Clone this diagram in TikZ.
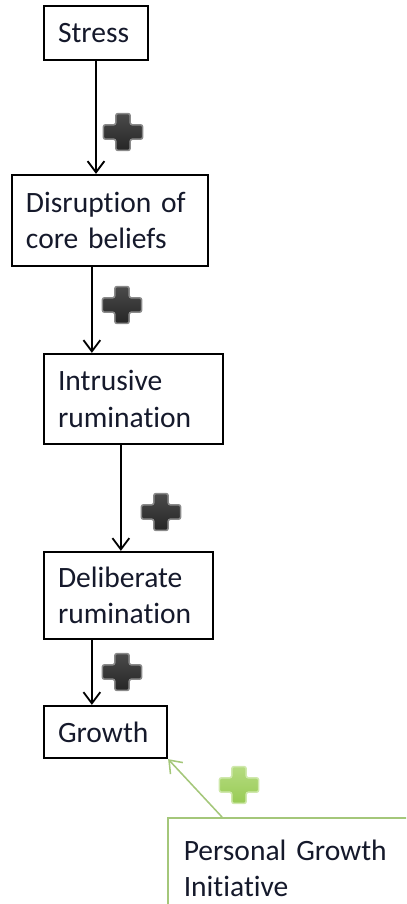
\documentclass[tikz,border=0pt]{standalone}
\usepackage{fontspec}
\setmainfont{Carlito}[Ligatures=NoCommon]
\usepackage{xcolor}
\usepackage{tikz}
\usetikzlibrary{
    arrows.meta,
    positioning,
    calc
}
\definecolor{ptgdark}{HTML}{262626}
\definecolor{ptgmid}{HTML}{4A4A4A}
\definecolor{ptgedge}{HTML}{8A8A8A}
\definecolor{ptggreen}{HTML}{A4C77A}
\definecolor{ptglime}{HTML}{98CB55}
\definecolor{ptgleaf}{HTML}{B5DB80}
\definecolor{ptgpale}{HTML}{CFE8AC}
\definecolor{ptgtext}{HTML}{15192B}
\tikzset{
    % Stage box
    stagebox/.style={
        rectangle,
        draw=black,
        line width=1.6pt,
        fill=white,
        text=ptgtext,
        font=\fontsize{21}{26}\selectfont,
        align=left,
        inner xsep=0.35cm,
        inner ysep=2pt
    },
    % Moderator box
    pgibox/.style={
        rectangle,
        draw=ptggreen,
        line width=1.1pt,
        fill=white,
        text=ptgtext,
        font=\fontsize{21}{26}\selectfont,
        align=left,
        inner xsep=0.4cm,
        inner ysep=0.55cm
    },
    % Arrow styles
    stagearrow/.style={
        -{Straight Barb[length=8pt,width=12pt]},
        line width=1.3pt,
        color=black
    },
    growtharrow/.style={
        -{Straight Barb[length=8pt,width=12pt]},
        line width=1.1pt,
        color=ptggreen
    },
    % Plus looks
    darkplus/.style={top color=ptgmid, bottom color=ptgdark, draw=ptgedge, line width=1.1pt},
    greenplus/.style={top color=ptgleaf, bottom color=ptglime, draw=ptgpale, line width=1.1pt},
    % Plus sign
    plusmark/.pic={
        \path[#1, rounded corners=1.5pt]
            (-0.18,0.46) -- (0.18,0.46) -- (0.18,0.18) -- (0.49,0.18)
            -- (0.49,-0.18) -- (0.18,-0.18) -- (0.18,-0.46) -- (-0.18,-0.46)
            -- (-0.18,-0.18) -- (-0.49,-0.18) -- (-0.49,0.18) -- (-0.18,0.18) -- cycle;
    }
}

\begin{document}
\begin{tikzpicture}

    % Page frame
    \useasboundingbox (0,0) rectangle (10.15,-22.6);
    \clip (0,0) rectangle (10.15,-22.6);

    % Stage nodes
    \node[stagebox, minimum height=1.35cm, text width=1.9cm] (stress) at (2.4,-0.825) {Stress};
    \node[stagebox, minimum height=2.275cm, text width=4.2cm] (disrupt) at (2.75,-5.5125) {Disruption of\\core beliefs};
    \node[stagebox, minimum height=2.25cm, text width=3.775cm] (intrus) at (3.3375,-9.975) {Intrusive\\rumination};
    \node[stagebox, minimum height=2.175cm, text width=3.525cm] (delib) at (3.2125,-14.8875) {Deliberate\\rumination};
    \node[stagebox, minimum height=1.3cm, text width=2.375cm] (growth) at (2.6375,-18.3) {Growth};

    % Moderator node
    \node[pgibox, anchor=north west, text width=6cm] (pgi) at (4.175,-20.425) {Personal Growth\\Initiative};

    % Arrow ends
    \coordinate (a2) at ([xshift=1.225cm]intrus.north west);
    \coordinate (a3) at ([xshift=1.95cm]delib.north west);
    \coordinate (a4) at ([xshift=1.225cm]growth.north west);

    % Stage arrows
    \draw[stagearrow] (stress.south) -- (stress.south |- disrupt.north);
    \draw[stagearrow] (disrupt.south -| a2) -- (a2);
    \draw[stagearrow] (intrus.south -| a3) -- (a3);
    \draw[stagearrow] (delib.south -| a4) -- (a4);

    % Moderator arrow
    \draw[growtharrow] ([xshift=1.375cm]pgi.north west) -- (growth.south east);

    % Plus signs
    \pic at (3.075,-3.3) {plusmark=darkplus};
    \pic at (3.05,-7.625) {plusmark=darkplus};
    \pic at (4.025,-12.8) {plusmark=darkplus};
    \pic at (3.05,-16.8) {plusmark=darkplus};
    \pic at (5.975,-19.625) {plusmark=greenplus};

\end{tikzpicture}
\end{document}
